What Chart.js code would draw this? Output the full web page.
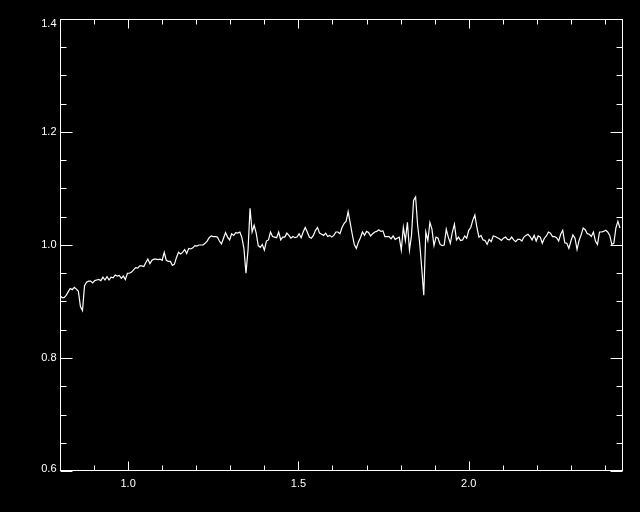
<!DOCTYPE html>
<html>
<head>
<meta charset="utf-8">
<script src="https://cdn.jsdelivr.net/npm/chart.js@4"></script>
<style>
  html, body { margin: 0; padding: 0; background: #000; }
  #wrap { width: 640px; height: 512px; }
</style>
</head>
<body>
<div id="wrap"><canvas id="spectrum" width="640" height="512"></canvas></div>
<script>
// wavelength grid of the spectrum
const WAVE_START = 0.80;
const WAVE_STEP = 0.006;

// flux, one value per wavelength step
const flux = [
  0.911, 0.907, 0.907, 0.911, 0.917, 0.923, 0.921, 0.925, 0.922, 0.918,
  0.891, 0.884, 0.928, 0.934, 0.936, 0.936, 0.933, 0.937, 0.938, 0.939,
  0.937, 0.943, 0.938, 0.944, 0.938, 0.943, 0.942, 0.947, 0.945, 0.946,
  0.941, 0.945, 0.939, 0.950, 0.950, 0.952, 0.956, 0.960, 0.959, 0.963,
  0.963, 0.962, 0.969, 0.975, 0.967, 0.973, 0.975, 0.975, 0.974, 0.975,
  0.973, 0.987, 0.973, 0.971, 0.971, 0.964, 0.966, 0.978, 0.987, 0.984,
  0.987, 0.992, 0.985, 0.994, 0.993, 0.995, 0.999, 0.998, 1.000, 1.000,
  1.000, 1.003, 1.007, 1.013, 1.016, 1.015, 1.015, 1.014, 1.007, 1.002,
  1.012, 1.022, 1.014, 1.009, 1.020, 1.017, 1.022, 1.021, 1.023, 1.013,
  0.994, 0.950, 0.991, 1.065, 1.023, 1.035, 1.021, 0.999, 0.996, 1.001,
  0.991, 1.007, 1.009, 1.023, 1.015, 1.014, 1.013, 1.023, 1.009, 1.014,
  1.014, 1.021, 1.017, 1.012, 1.015, 1.013, 1.014, 1.020, 1.013, 1.023,
  1.031, 1.023, 1.014, 1.012, 1.017, 1.026, 1.031, 1.021, 1.019, 1.017,
  1.021, 1.015, 1.017, 1.014, 1.017, 1.023, 1.023, 1.020, 1.031, 1.038,
  1.042, 1.059, 1.039, 1.019, 1.001, 0.994, 1.005, 1.013, 1.023, 1.017,
  1.024, 1.022, 1.016, 1.020, 1.023, 1.024, 1.027, 1.024, 1.025, 1.015,
  1.015, 1.015, 1.011, 1.016, 1.010, 1.012, 1.014, 0.991, 1.031, 1.008,
  1.040, 0.991, 1.017, 1.079, 1.085, 1.035, 1.003, 0.959, 0.911, 1.023,
  1.008, 1.040, 1.028, 0.999, 1.014, 1.012, 1.001, 0.999, 1.000, 1.028,
  1.014, 1.003, 1.023, 1.037, 1.009, 1.014, 1.008, 1.009, 1.016, 1.012,
  1.026, 1.031, 1.044, 1.053, 1.031, 1.014, 1.017, 1.009, 1.008, 1.001,
  1.010, 1.006, 1.016, 1.015, 1.013, 1.011, 1.008, 1.012, 1.014, 1.010,
  1.009, 1.014, 1.009, 1.006, 1.010, 1.010, 1.007, 1.014, 1.017, 1.019,
  1.015, 1.009, 1.017, 1.007, 1.016, 1.014, 1.003, 1.012, 1.016, 1.023,
  1.021, 1.015, 1.015, 1.013, 1.007, 1.019, 1.026, 1.004, 1.003, 0.994,
  1.007, 1.018, 1.012, 0.992, 1.008, 1.018, 1.030, 1.027, 1.020, 1.019,
  1.015, 1.023, 1.007, 1.001, 1.023, 1.023, 1.024, 1.026, 1.023, 1.017,
  1.001, 1.003, 1.030, 1.042, 1.030
];

// axis ranges and ticks
const xRange = [0.80, 2.45];
const yRange = [0.6, 1.4];
const xMajorTicks = [1.0, 1.5, 2.0];
const xTickLabels = ['1.0', '1.5', '2.0'];
const xMinorTicks = [0.9, 1.1, 1.2, 1.3, 1.4, 1.6, 1.7, 1.8, 1.9, 2.1, 2.2, 2.3, 2.4];
const yMajorTicks = [0.6, 0.8, 1.0, 1.2, 1.4];
const yTickLabels = ['0.6', '0.8', '1.0', '1.2', '1.4'];
const yMinorTicks = [0.65, 0.7, 0.75, 0.85, 0.9, 0.95, 1.05, 1.1, 1.15, 1.25, 1.3, 1.35];

// black page background
const blackBackground = {
  id: 'blackBackground',
  beforeDraw(chart) {
    const c = chart.ctx;
    c.save();
    c.fillStyle = '#000';
    c.fillRect(0, 0, chart.width, chart.height);
    c.restore();
  }
};

// IDL style box with inward ticks on all four sides
const idlAxes = {
  id: 'idlAxes',
  afterDraw(chart) {
    const c = chart.ctx;
    const xs = chart.scales.x;
    const ys = chart.scales.y;
    const a = chart.chartArea;
    const left = Math.round(a.left) + 0.5;
    const right = Math.round(a.right) + 0.5;
    const top = Math.round(a.top) + 0.5;
    const bottom = Math.round(a.bottom) - 0.5;

    c.save();
    c.strokeStyle = '#fff';
    c.lineWidth = 1;
    c.strokeRect(left, top, right - left, bottom - top);

    c.beginPath();
    const xTick = (v, len) => {
      const px = Math.round(xs.getPixelForValue(v)) + 0.5;
      c.moveTo(px, bottom); c.lineTo(px, bottom - len);
      c.moveTo(px, top); c.lineTo(px, top + len);
    };
    const yTick = (v, len) => {
      const py = Math.round(ys.getPixelForValue(v)) + 0.5;
      c.moveTo(left, py); c.lineTo(left + len, py);
      c.moveTo(right, py); c.lineTo(right - len, py);
    };
    xMajorTicks.forEach(v => xTick(v, 9));
    xMinorTicks.forEach(v => xTick(v, 5));
    yMajorTicks.forEach(v => yTick(v, 12));
    yMinorTicks.forEach(v => yTick(v, 6));
    c.stroke();

    c.fillStyle = '#fff';
    c.font = '11px "Liberation Sans", Arial, sans-serif';
    c.textAlign = 'center';
    c.textBaseline = 'middle';
    xMajorTicks.forEach((v, i) => {
      c.fillText(xTickLabels[i], xs.getPixelForValue(v), bottom + 13);
    });
    c.textAlign = 'right';
    yMajorTicks.forEach((v, i) => {
      let py = ys.getPixelForValue(v);
      py = Math.min(Math.max(py, top + 4), bottom - 2);
      c.fillText(yTickLabels[i], left - 4, py);
    });
    c.restore();
  }
};

function initSpectrum() {
  const points = flux.map((f, i) => ({ x: WAVE_START + i * WAVE_STEP, y: f }));
  const ctx = document.getElementById('spectrum').getContext('2d');

  new Chart(ctx, {
    type: 'line',
    data: {
      datasets: [{
        data: points,
        borderColor: '#fff',
        borderWidth: 1.2,
        pointRadius: 0,
        tension: 0,
        fill: false
      }]
    },
    options: {
      responsive: false,
      animation: false,
      layout: {
        padding: { left: 60, right: 18, top: 19, bottom: 41 }
      },
      scales: {
        x: { type: 'linear', min: xRange[0], max: xRange[1], display: false },
        y: { type: 'linear', min: yRange[0], max: yRange[1], display: false }
      },
      plugins: {
        legend: { display: false },
        tooltip: { enabled: false }
      }
    },
    plugins: [blackBackground, idlAxes]
  });
}

document.addEventListener('DOMContentLoaded', initSpectrum);
</script>
</body>
</html>
